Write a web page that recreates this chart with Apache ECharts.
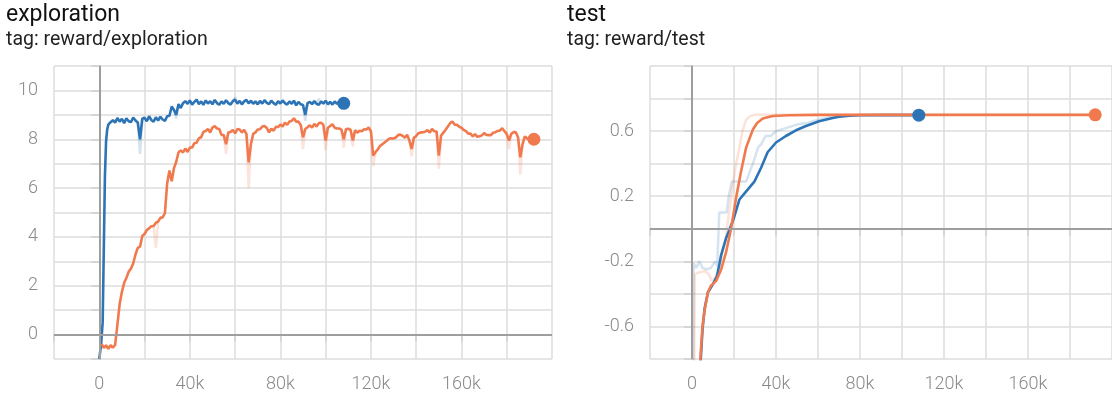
<!DOCTYPE html>
<html><head><meta charset="utf-8">
<script src="https://cdn.jsdelivr.net/npm/echarts@6/dist/echarts.min.js"></script>
<style>html,body{margin:0;padding:0;background:#fff}#c{width:1112px;height:394px}</style>
</head><body><div id="c"></div>
<script>
// ---------- data ----------
const STEP = 1000;
// exploration, blue run
const blueExpEarly = [[0,-1.0],[800,-0.4],[1500,0.5],[2000,3.5],[2500,6.5],[3000,7.9],[3500,8.4],[4000,8.6],[5000,8.7]];
const blueExpStart = 6000;
const blueExpVals = [
 8.78,8.68,8.87,8.72,8.84,8.66,8.86,8.74,8.70,8.89,8.77,8.69,8.00,8.84,8.88,8.74,8.94,8.79,
 8.72,8.90,8.77,8.92,8.81,8.75,8.94,8.96,9.34,9.20,9.00,9.44,9.28,9.48,9.56,9.45,9.59,9.42,
 9.53,9.62,9.44,9.55,9.41,9.59,9.46,9.56,9.43,9.61,9.48,9.41,9.55,9.45,9.60,9.48,9.42,9.56,
 9.62,9.46,9.57,9.43,9.55,9.61,9.47,9.58,9.45,9.55,9.43,9.57,9.46,9.60,9.49,9.44,9.58,9.48,
 9.41,9.56,9.46,9.59,9.48,9.42,9.55,9.45,9.58,9.39,9.53,9.43,9.40,9.00,9.48,9.53,9.44,9.56,
 9.45,9.41,9.55,9.46,9.58,9.43,9.53,9.42,9.55,9.45,9.54,9.43,9.47
];
const blueExpRaw = [[17000,8.72],[18000,7.40],[19000,8.82],null,[33000,9.22],[34000,8.85],[35000,9.42],null,
 [59000,9.55],[60000,9.72],[61000,9.48],null,[90000,9.40],[91000,8.75],[92000,9.46],null,[96000,9.47],[97000,9.66],[98000,9.50]];
// exploration, orange run
const orangeExpStart = 1000;
const orangeExpVals = [
 -0.38,-0.54,-0.44,-0.58,-0.43,-0.54,-0.42,0.40,1.25,1.75,
 2.12,2.33,2.58,2.70,2.92,3.28,3.55,3.60,4.04,4.12,
 4.28,4.35,4.44,4.45,4.58,4.63,4.78,4.80,4.98,6.20,
 6.72,6.28,6.82,7.08,7.47,7.54,7.46,7.62,7.48,7.66,
 7.66,7.84,7.86,8.04,8.08,8.30,8.34,8.42,8.28,8.48,
 8.54,8.44,8.42,8.18,8.17,7.80,8.28,8.30,8.38,8.24,
 8.42,8.40,8.28,8.38,8.22,7.05,7.80,8.22,8.28,8.40,
 8.41,8.52,8.54,8.46,8.28,8.43,8.35,8.51,8.50,8.60,
 8.52,8.68,8.59,8.73,8.75,8.86,8.72,8.72,8.58,8.08,
 8.42,8.49,8.57,8.48,8.63,8.52,8.66,8.68,8.59,7.95,
 8.47,8.54,8.62,8.47,8.44,8.44,8.39,8.00,8.42,8.43,
 8.39,7.95,8.37,8.27,8.35,8.33,8.41,8.40,8.48,8.33,
 7.33,7.47,7.58,7.72,7.79,7.87,7.94,8.02,8.04,8.03,
 8.07,8.17,8.19,8.14,8.06,8.18,7.95,7.60,8.07,8.13,
 8.25,8.28,8.29,8.31,8.37,8.27,8.42,8.33,8.32,7.33,
 8.15,8.27,8.39,8.52,8.66,8.73,8.60,8.59,8.51,8.47,
 8.38,8.33,8.23,8.23,8.12,8.21,8.10,8.12,8.16,8.25,
 8.18,8.17,8.17,8.27,8.29,8.34,8.36,8.45,8.33,8.22,
 7.95,8.22,8.29,8.29,8.08,7.26,7.80,8.12,8.03,7.97,
 8.02,8.00
];
const orangeExpRaw = [[24000,4.45],[25000,3.55],[26000,4.62],null,[55000,8.15],[56000,7.40],[57000,8.26],null,
 [65000,8.24],[66000,6.00],[67000,7.80],null,[89000,8.60],[90000,7.60],[91000,8.40],null,
 [99000,8.57],[100000,7.55],[101000,8.45],null,[107000,8.37],[108000,7.65],[109000,8.40],null,
 [111000,8.37],[112000,7.70],[113000,8.35],null,[120000,8.35],[121000,6.90],[122000,7.45],null,
 [137000,7.95],[138000,7.30],[139000,8.05],null,[149000,8.30],[150000,6.80],[151000,8.15],null,
 [180000,8.20],[181000,7.60],[182000,8.20],null,[185000,8.10],[186000,6.55],[187000,7.80]];
// test, blue run
const blueTest = [[3500,-0.95],[5000,-0.62],[6000,-0.49],[7600,-0.39],[10000,-0.34],[11900,-0.29],[13000,-0.22],
 [13900,-0.16],[16300,-0.055],[18000,0.0],[20000,0.068],[22600,0.18],[25800,0.23],[29700,0.29],[32900,0.375],
 [36000,0.47],[40000,0.53],[44700,0.57],[49500,0.605],[54000,0.63],[60500,0.66],[67000,0.68],[70000,0.688],
 [75000,0.694],[80000,0.697],[90000,0.698],[100000,0.698],[108000,0.698]];
const blueTestRaw = [[600,-1.0],[800,-0.21],[2000,-0.24],[3500,-0.20],[5000,-0.24],[7000,-0.25],[9000,-0.24],
 [11000,-0.20],[12000,-0.23],[13000,0.10],[16500,0.10],[17500,0.20],[19000,0.29],[25800,0.29],[27500,0.35],
 [29000,0.40],[31500,0.50],[33000,0.52],[35000,0.57],[37500,0.57],[40000,0.60],[45000,0.62],[50000,0.64],
 [55000,0.65],[60000,0.67],[65000,0.685],[70000,0.69],[80000,0.70],[108000,0.70]];
// test, orange run
const orangeTest = [[3600,-0.9],[4200,-0.75],[5000,-0.6],[6000,-0.5],[7600,-0.39],[9000,-0.35],[11500,-0.32],
 [13900,-0.25],[16300,-0.14],[18700,0.006],[21000,0.19],[23400,0.355],[25800,0.5],[29000,0.61],[31000,0.65],
 [33700,0.677],[38400,0.693],[46000,0.697],[60000,0.70],[192000,0.70]];
const orangeTestRaw = [[1000,-1.0],[1300,-0.28],[3000,-0.27],[6000,-0.26],[8000,-0.28],[9500,-0.32],[11000,-0.30],
 [13000,-0.24],[16000,-0.06],[19400,0.27],[21000,0.40],[22600,0.50],[24000,0.60],[25800,0.67],[28000,0.695],
 [30000,0.70],[192000,0.70]];

// ---------- build ----------
const blueExp = blueExpEarly.concat(blueExpVals.map((v,i)=>[blueExpStart+i*STEP, v]));
const orangeExp = orangeExpVals.map((v,i)=>[orangeExpStart+i*STEP, v]);

const BLUE = '#2d74b7', ORANGE = '#f07a4e';
const GRID = '#dcdcdc', ZERO = '#9e9e9e', LBL = '#8a8a8a';
const FONT = 'Roboto, "Noto Sans", sans-serif';

function xAxis(gi){
  return {type:'value', gridIndex:gi, min:-20000, max:200000, interval:20000,
    axisLine:{show:false},
    axisTick:{show:true, length:7, lineStyle:{color:'#cfcfcf', width:1.5}},
    splitLine:{show:true, lineStyle:{color:GRID, width:1.5}},
    axisLabel:{margin:16, color:LBL, fontSize:18, fontFamily:FONT, fontWeight:300, showMaxLabel:false,
      formatter:v => (v>=0 && v%40000===0) ? (v===0?'0':(v/1000)+'k') : ''}};
}
function yAxis(gi, min, max, itv, fmt){
  return {type:'value', gridIndex:gi, min:min, max:max, interval:itv,
    axisLine:{show:true, lineStyle:{color:'#b0b0b0', width:1.5}},
    axisTick:{show:true, length:8, lineStyle:{color:'#cfcfcf', width:1.5}},
    splitLine:{show:true, lineStyle:{color:GRID, width:1.5}},
    axisLabel:{margin:16, color:LBL, fontSize:18, fontFamily:FONT, fontWeight:300, formatter:fmt}};
}
function line(data, color, gi, opacity, width){
  return {type:'line', data:data, xAxisIndex:gi, yAxisIndex:gi, showSymbol:false, symbol:'none',
    connectNulls:false, clip:true, silent:true, animation:false,
    lineStyle:{color:color, width:width||2.5, opacity:opacity}};
}
function dot(data, color, gi){
  return {type:'scatter', data:[data[data.length-1]], xAxisIndex:gi, yAxisIndex:gi, symbolSize:13,
    itemStyle:{color:color, opacity:1}, silent:true, animation:false, z:5};
}
function zeroLines(gi){
  return {type:'line', data:[], xAxisIndex:gi, yAxisIndex:gi, silent:true, animation:false,
    markLine:{silent:true, symbol:'none', label:{show:false},
      lineStyle:{color:ZERO, width:2, type:'solid'},
      data:[{xAxis:0},{yAxis:0}]}};
}
const testLabels = [-6, -2, 2, 6];

const chart = echarts.init(document.getElementById('c'), null, {renderer:'canvas'});
chart.setOption({
  animation:false,
  backgroundColor:'#fff',
  title:[
    {text:'exploration', subtext:'tag: reward/exploration', left:6, top:4, padding:0, itemGap:3,
     textStyle:{fontSize:23, fontWeight:'normal', color:'#111', fontFamily:FONT},
     subtextStyle:{fontSize:19.5, color:'#222', fontFamily:FONT}},
    {text:'test', subtext:'tag: reward/test', left:567, top:4, padding:0, itemGap:3,
     textStyle:{fontSize:23, fontWeight:'normal', color:'#111', fontFamily:FONT},
     subtextStyle:{fontSize:19.5, color:'#222', fontFamily:FONT}}
  ],
  grid:[
    {left:54, right:560, top:66, bottom:35, containLabel:false},
    {left:650, right:-2, top:66, bottom:35, containLabel:false}
  ],
  xAxis:[xAxis(0), xAxis(1)],
  yAxis:[
    yAxis(0, -1, 11, 1, v => (v%2===0 ? String(v) : '')),
    yAxis(1, -0.8, 1.0, 0.2, v => testLabels.indexOf(Math.round(v*10))>=0 ? v.toFixed(1) : '')
  ],
  series:[
    zeroLines(0), zeroLines(1),
    line(blueExpRaw, BLUE, 0, 0.2, 2.5),
    line(orangeExpRaw, ORANGE, 0, 0.2, 2.5),
    line(blueExp, BLUE, 0, 1, 2.6),
    line(orangeExp, ORANGE, 0, 1, 2.6),
    dot(blueExp, BLUE, 0), dot(orangeExp, ORANGE, 0),
    line(blueTestRaw, BLUE, 1, 0.2, 2.5),
    line(orangeTestRaw, ORANGE, 1, 0.22, 2.5),
    line(blueTest, BLUE, 1, 1, 2.6),
    line(orangeTest, ORANGE, 1, 1, 2.6),
    dot(blueTest, BLUE, 1), dot(orangeTest, ORANGE, 1)
  ]
});
</script></body></html>
